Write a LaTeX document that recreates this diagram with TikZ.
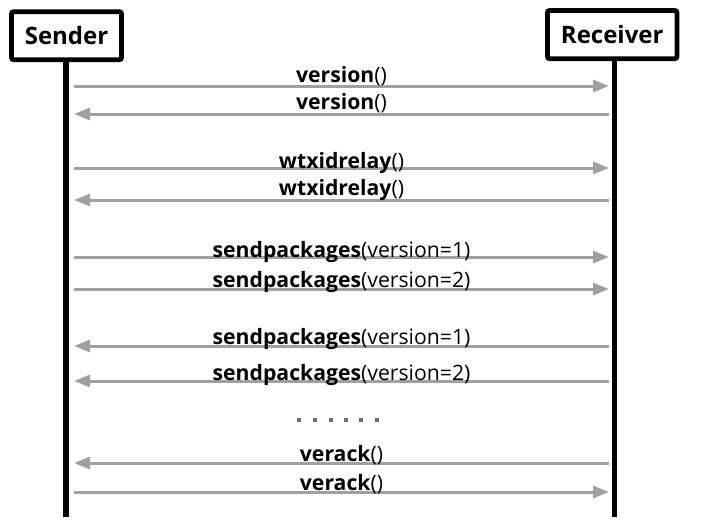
\documentclass[tikz,border=0pt]{standalone}
\usepackage{fontspec}
\setmainfont{Open Sans}
\usetikzlibrary{arrows.meta,positioning}
\definecolor{msggray}{HTML}{A0A0A0}
\definecolor{dotgray}{HTML}{6E6E6E}
\tikzset{actor/.style={draw=black,line width=3.5pt,rounded corners=1.5pt,
        font=\bfseries\fontsize{18}{20}\selectfont,inner sep=0pt},
        lifeline/.style={line width=4.3pt,black},
        msg/.style={draw=msggray,line width=2.25pt,-{Triangle[length=12pt,width=9pt]}},
        lbl/.style={font=\fontsize{15.9}{17}\selectfont,anchor=base,inner sep=0pt}
        }
\begin{document}
\begin{tikzpicture}[x=0.75pt,y=-0.75pt]
	\useasboundingbox (0,0) rectangle (702,528);

	% actors
	\node[actor,minimum width=110*0.75pt,minimum height=48*0.75pt] (sender) at (66.5,35.7) {Sender};
	\node[actor,minimum width=129.5*0.75pt,minimum height=48.2*0.75pt] (receiver) at (612.2,34.6) {Receiver};
	\coordinate (sendend) at (66,517);
	\coordinate (recvend) at (614.5,517);
	\draw[lifeline] (sender.south -| sendend) -- (sendend);
	\draw[lifeline] (receiver.south -| recvend) -- (recvend);

	% message end points
	\foreach \n/\y in {1/86,2/114,3/168,4/200,5/257,6/289,7/346,8/381,9/463,10/492} {
		\coordinate (s\n) at (74,\y);
		\coordinate (r\n) at (609,\y);
	}

	\draw[msg] (s1) -- node[lbl,yshift=3pt] (m1) {\textbf{version}()} (r1);
	\draw[msg] (r2) -- node[lbl,yshift=3.7pt] (m2) {\textbf{version}()} (s2);
	\draw[msg] (s3) -- node[lbl,yshift=0pt] (m3) {\textbf{wtxidrelay}()} (r3);
	\draw[msg] (r4) -- node[lbl,yshift=3.7pt] (m4) {\textbf{wtxidrelay}()} (s4);
	\draw[msg] (s5) -- node[lbl,yshift=0pt] (m5) {\textbf{sendpackages}(version=1)} (r5);
	\draw[msg] (s6) -- node[lbl,yshift=1.3pt] (m6) {\textbf{sendpackages}(version=2)} (r6);
	\draw[msg] (r7) -- node[lbl,yshift=1.5pt] (m7) {\textbf{sendpackages}(version=1)} (s7);
	\draw[msg] (r8) -- node[lbl,yshift=0.3pt] (m8) {\textbf{sendpackages}(version=2)} (s8);

	% gap
	\foreach \x in {299.3,315,330.7,346,361.3,376.7}
		\fill[dotgray] (\x-2,418) rectangle +(4,4);

	\draw[msg] (r9) -- node[lbl,yshift=1.5pt] (m9) {\textbf{verack}()} (s9);
	\draw[msg] (s10) -- node[lbl,yshift=1.5pt] (m10) {\textbf{verack}()} (r10);
\end{tikzpicture}
\end{document}
